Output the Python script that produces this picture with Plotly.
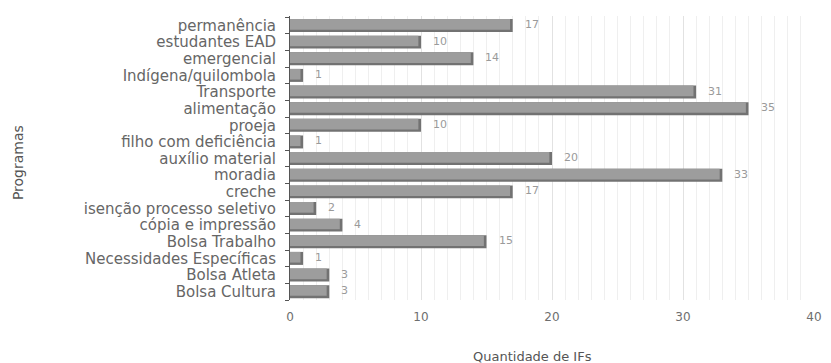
import plotly.graph_objects as go

# Programas de assistência estudantil e quantidade de IFs que os oferecem
programas = [
    "permanência", "estudantes EAD", "emergencial", "Indígena/quilombola",
    "Transporte", "alimentação", "proeja", "filho com deficiência",
    "auxílio material", "moradia", "creche", "isenção processo seletivo",
    "cópia e impressão", "Bolsa Trabalho", "Necessidades Específicas",
    "Bolsa Atleta", "Bolsa Cultura",
]
quantidade = [17, 10, 14, 1, 31, 35, 10, 1, 20, 33, 17, 2, 4, 15, 1, 3, 3]

# bottom-to-top order for the category axis
cats = programas[::-1]
vals = quantidade[::-1]

FONT = "DejaVu Sans, Arial, sans-serif"

fig = go.Figure()

# darker body giving the bevelled edge on the bottom and right
fig.add_trace(go.Bar(
    y=cats, x=vals, orientation="h",
    width=0.78, offset=-0.39,
    marker=dict(color="#727272", line=dict(width=0)),
    hoverinfo="skip",
))
# lighter front face
fig.add_trace(go.Bar(
    y=cats, x=[v - 0.2 for v in vals], orientation="h",
    width=0.64, offset=-0.25,
    marker=dict(color="#9d9d9d", line=dict(width=0)),
    hoverinfo="skip",
))

# value labels to the right of each bar
value_labels = [
    dict(x=v, y=c, text=str(v), xref="x", yref="y", xanchor="left",
         xshift=10, yshift=1, showarrow=False,
         font=dict(family=FONT, size=11, color="#9a9a9a"))
    for c, v in zip(cats, vals)
]

fig.update_layout(
    width=831, height=363,
    margin=dict(l=290, r=9, t=16, b=63),
    paper_bgcolor="white", plot_bgcolor="white",
    barmode="overlay", showlegend=False,
    font=dict(family=FONT, color="#666666"),
    xaxis=dict(
        range=[0, 40], tickvals=[0, 10, 20, 30, 40],
        tickfont=dict(size=12, color="#6e6e6e"),
        ticklabelstandoff=8,
        showgrid=True, gridcolor="#e2e2e2", gridwidth=1,
        minor=dict(dtick=1, showgrid=True, gridcolor="#efefef", gridwidth=1),
        zeroline=False, showline=False, ticks="",
    ),
    yaxis=dict(
        categoryorder="array", categoryarray=cats,
        tickmode="linear", tick0=0, dtick=1,
        tickfont=dict(size=15, color="#666666"),
        ticklabelstandoff=10,
        showline=True, linecolor="#555555", linewidth=1,
        ticks="outside", tickson="boundaries", ticklen=4, tickcolor="#555555",
        showgrid=False,
    ),
    annotations=value_labels + [
        dict(text="Quantidade de IFs", xref="paper", yref="paper",
             x=0.462, y=0, yshift=-56, showarrow=False, yanchor="middle",
             font=dict(size=13, color="#555555", family=FONT)),
        dict(text="Programas", xref="paper", yref="paper",
             x=0, xshift=-282, y=0.482, textangle=-90, showarrow=False,
             font=dict(size=14, color="#555555", family=FONT)),
    ],
)

fig.write_html("out.html")
